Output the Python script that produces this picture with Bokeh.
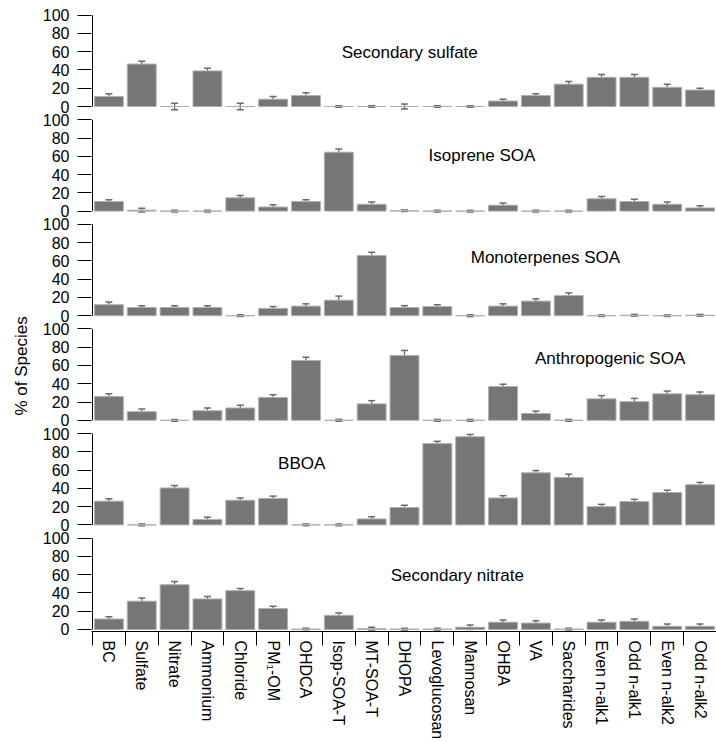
from bokeh.plotting import figure
from bokeh.models import ColumnDataSource, Range1d, FixedTicker, LinearAxis, Whisker, TeeHead, Title
from bokeh.embed import file_html
from bokeh.resources import INLINE
from bokeh.core.properties import value

categories = ["BC", "Sulfate", "Nitrate", "Ammonium", "Chloride", "PM\u2081-OM", "OHDCA",
              "Isop-SOA-T", "MT-SOA-T", "DHOPA", "Levoglucosan", "Mannosan", "OHBA", "VA",
              "Saccharides", "Even n-alk1", "Odd n-alk1", "Even n-alk2", "Odd n-alk2"]

y_ticks = [0, 20, 40, 60, 80, 100]

sec_sulfate = [11, 46.5, 0, 39, 0, 8, 12, 0, 0, 0, 0, 0, 6, 12, 24.5, 32, 32, 21, 18]
sec_sulfate_err = [3, 3, 3.5, 3, 3.5, 3, 3, 0.8, 0.8, 2.7, 0.8, 0.8, 2, 2, 3, 3, 3, 3.5, 2]

isoprene = [10.5, 1, 0, 0, 14.5, 4.5, 10.5, 64.5, 7.5, 0.5, 0, 0, 6.5, 0, 0, 13.5, 10.5, 7.5, 3.5]
isoprene_err = [2, 2, 1, 1, 2.5, 2.5, 2, 3.5, 2.5, 0.8, 1, 1, 2.5, 1, 1, 2.5, 2.5, 2.5, 2.5]

monoterp = [12, 9, 9, 9, 0, 8, 10.5, 17, 66, 9, 10, 0, 10.5, 16, 22, 0, 0.5, 0, 0.5]
monoterp_err = [3, 2, 2, 2, 1, 2, 2.5, 4.5, 3.5, 2, 2, 1, 2.5, 2.5, 3, 0.8, 1, 0.8, 1]

anthro = [26, 9.5, 0, 10.5, 13.5, 25, 65.5, 0, 18, 71, 0, 0, 37, 7.5, 0, 23.5, 20.5, 29, 28]
anthro_err = [3, 3, 1, 3, 3, 3, 3.5, 1, 3.5, 5.5, 1, 1, 2.5, 2.5, 1, 3.5, 3.5, 3, 3]

bboa = [26, 0, 40.5, 6, 27, 29, 0, 0, 6.5, 19, 89, 96.5, 29.5, 57, 52, 20, 25.5, 35.5, 44]
bboa_err = [2.5, 1, 2.5, 2.5, 2.5, 2.5, 1, 1, 2.5, 2.5, 2.5, 2.5, 2.5, 2.5, 3.5, 2.5, 2.5, 2.5, 2.5]

sec_nitrate = [11.5, 31, 49, 33.5, 42.5, 23, 0.5, 15.5, 1, 0.5, 0.5, 2.5, 8, 7, 0.5, 8, 9, 3.5, 3.5]
sec_nitrate_err = [2.5, 3.5, 3.5, 2.5, 2.5, 2.5, 0.8, 2.5, 1.5, 1, 1, 2.5, 2.5, 2.5, 1, 2.5, 2.5, 2.5, 2.5]

factor_names = ["Secondary sulfate", "Isoprene SOA", "Monoterpenes SOA",
                "Anthropogenic SOA", "BBOA", "Secondary nitrate"]

series = [(sec_sulfate, sec_sulfate_err), (isoprene, isoprene_err), (monoterp, monoterp_err),
          (anthro, anthro_err), (bboa, bboa_err), (sec_nitrate, sec_nitrate_err)]

# ---- layout constants (not data) ----
label_pos = [(9.66, 59), (11.86, 61), (13.79, 64), (15.76, 68), (6.37, 67), (11.11, 59)]
PANEL_STEP = 114.5          # vertical distance between stacked panels, in % units
Y_LO, Y_HI = -2.19, 679.8   # full shared y extent
FONT = "Liberation Sans"
BAR = "#767676"
ERR = "#6a6a6a"

n = len(categories)
centers = [i + 0.5 for i in range(n)]
npan = len(series)
offsets = [(npan - 1 - k) * PANEL_STEP for k in range(npan)]

p = figure(frame_width=625, frame_height=623,
           x_range=Range1d(-0.03, n), y_range=Range1d(Y_LO, Y_HI),
           output_backend="svg", toolbar_location=None,
           x_axis_location=None, y_axis_location="left",
           min_border_left=91, min_border_right=0, min_border_top=8, min_border_bottom=0)
p.outline_line_color = None
p.xgrid.visible = False
p.ygrid.visible = False
p.background_fill_color = "white"
p.border_fill_color = "white"

for k, (name, (vals, errs)) in enumerate(zip(factor_names, series)):
    rn = "panel%d" % k
    p.extra_y_ranges[rn] = Range1d(Y_LO - offsets[k], Y_HI - offsets[k])
    src = ColumnDataSource(dict(x=centers, top=vals,
                                lower=[v - e for v, e in zip(vals, errs)],
                                upper=[v + e for v, e in zip(vals, errs)]))
    w = Whisker(source=src, base="x", lower="lower", upper="upper", y_range_name=rn,
                line_color=ERR, line_width=1.3, level="underlay",
                upper_head=TeeHead(size=7, line_color=ERR, line_width=1.5),
                lower_head=TeeHead(size=7, line_color=ERR, line_width=1.5))
    p.add_layout(w)
    p.vbar(x="x", top="top", bottom=0, width=0.88, source=src, y_range_name=rn,
           fill_color=BAR, line_color="#b0b0b0", line_width=1)
    # per-panel y axis rule (0..100)
    p.segment(x0=[0], y0=[y_ticks[0]], x1=[0], y1=[y_ticks[-1]], y_range_name=rn,
              line_color="black", line_width=1)
    lx, ly = label_pos[k]
    p.text(x=[lx], y=[ly], text=[name], y_range_name=rn, text_font=value(FONT),
           text_font_size="17px", text_align="center", text_baseline="middle",
           text_color="black")

# shared y axis: ticks repeated for every panel
tick_vals = []
tick_over = {}
for off in offsets:
    for t in y_ticks:
        tick_vals.append(off + t)
        tick_over[off + t] = str(t)
ya = p.yaxis[0]
ya.ticker = FixedTicker(ticks=tick_vals)
ya.major_label_overrides = tick_over
ya.axis_line_color = None
ya.major_tick_out = 14
ya.major_tick_in = 0
ya.minor_tick_line_color = None
ya.major_tick_line_color = "black"
ya.major_label_standoff = 8
ya.major_label_text_font = FONT
ya.major_label_text_font_size = "16px"
ya.major_label_text_color = "black"

# y title on the left side, shifted up from the bottom to where the original has it
ytitle = Title(text="% of Species", align="left", offset=216, standoff=17,
               text_font=FONT, text_font_size="17px", text_font_style="normal",
               text_color="black")
p.add_layout(ytitle, "left")

# bottom category axis: ticks at boundaries, labels at centres
xa = LinearAxis(ticker=FixedTicker(ticks=centers, minor_ticks=list(range(n + 1))),
                major_label_overrides={c: cat for c, cat in zip(centers, categories)})
xa.major_label_orientation = "vertical"
xa.major_tick_out = 0
xa.major_tick_in = 0
xa.major_tick_line_color = None
xa.minor_tick_out = 14
xa.minor_tick_in = 0
xa.minor_tick_line_color = "black"
xa.major_label_standoff = -5
xa.major_label_text_font = FONT
xa.major_label_text_font_size = "16px"
xa.major_label_text_color = "black"
xa.axis_line_color = "black"
p.add_layout(xa, "below")

open("out.html", "w").write(file_html(p, INLINE))
